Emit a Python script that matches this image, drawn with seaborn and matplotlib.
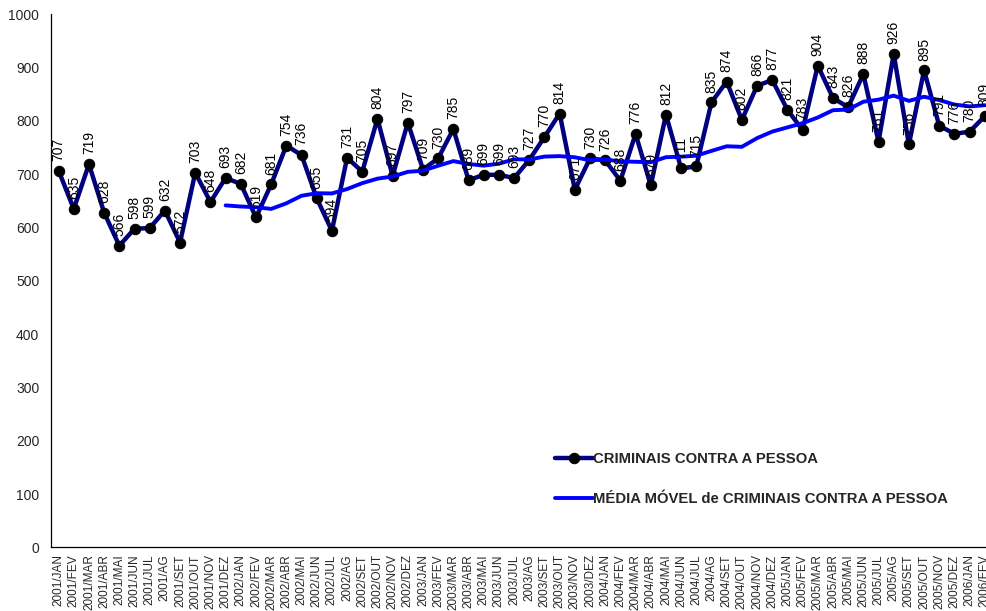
import matplotlib
matplotlib.use("Agg")
import matplotlib.pyplot as plt
import seaborn as sns
import pandas as pd
import numpy as np

# Monthly totals, Jan 2001 – Feb 2006
months = ["JAN", "FEV", "MAR", "ABR", "MAI", "JUN", "JUL", "AG", "SET", "OUT", "NOV", "DEZ"]
periods = [f"{y}/{m}" for y in range(2001, 2006) for m in months] + ["2006/JAN", "2006/FEV"]

crimes = [
    707, 635, 719, 628, 566, 598, 599, 632, 572, 703, 648, 693,   # 2001
    682, 619, 681, 754, 736, 655, 594, 731, 705, 804, 697, 797,   # 2002
    709, 730, 785, 689, 699, 699, 693, 727, 770, 814, 671, 730,   # 2003
    726, 688, 776, 679, 812, 711, 715, 835, 874, 802, 866, 877,   # 2004
    821, 783, 904, 843, 826, 888, 761, 926, 756, 895, 791, 776,   # 2005
    780, 809,                                                     # 2006
]

series_name = "CRIMINAIS CONTRA A PESSOA"
ma_name = "MÉDIA MÓVEL de CRIMINAIS CONTRA A PESSOA"

df = pd.DataFrame({"periodo": periods, "valor": crimes})
df["pos"] = np.arange(len(df))
# 12-month trailing moving average
df["media"] = df["valor"].rolling(12).mean()

sns.set_style("white")
plt.rcParams["font.family"] = ["Liberation Sans", "DejaVu Sans"]

fig = plt.figure(figsize=(9.87, 6.11), dpi=100)
ax = fig.add_axes([51 / 987, 63.6 / 611, 941.4 / 987, 533 / 611])

sns.lineplot(data=df, x="pos", y="valor", ax=ax, color="#000080", linewidth=3.2,
             marker="o", markersize=7.5, markerfacecolor="black",
             markeredgecolor="black", label=series_name, zorder=3)
sns.lineplot(data=df.dropna(), x="pos", y="media", ax=ax, color="#0000FF",
             linewidth=2.8, label=ma_name, zorder=4)

for x, v in zip(df["pos"], df["valor"]):
    ax.annotate(str(v), (x, v), xytext=(0, 7), textcoords="offset points",
                rotation=90, ha="center", va="bottom", fontsize=10, color="black",
                zorder=5, annotation_clip=False)

ax.set_xlim(-0.5, len(df) - 0.5)
ax.set_ylim(0, 1000)
ax.set_yticks(range(0, 1001, 100))
ax.set_xticks(df["pos"])
ax.set_xticklabels(df["periodo"], rotation=90, fontsize=8.5)
ax.set_xticks(np.arange(-0.5, len(df), 1.0), minor=True)
ax.tick_params(axis="x", which="major", length=0, pad=5)
ax.tick_params(axis="x", which="minor", length=4.3, direction="inout", width=0.8, color="black")
ax.tick_params(axis="y", which="major", length=4, direction="out", width=0.8,
               color="black", labelsize=10, pad=4.5)
ax.set_xlabel("")
ax.set_ylabel("")

for side in ["top", "right"]:
    ax.spines[side].set_visible(False)
for side in ["left", "bottom"]:
    ax.spines[side].set_color("black")
    ax.spines[side].set_linewidth(0.9)

leg = ax.legend(loc="lower left", bbox_to_anchor=(0.535, 0.077), frameon=False,
                prop={"weight": "bold", "size": 10.7}, handlelength=2.55,
                handletextpad=0.0, labelspacing=1.75, borderpad=0, borderaxespad=0)

fig.savefig("out.png", dpi=100)
